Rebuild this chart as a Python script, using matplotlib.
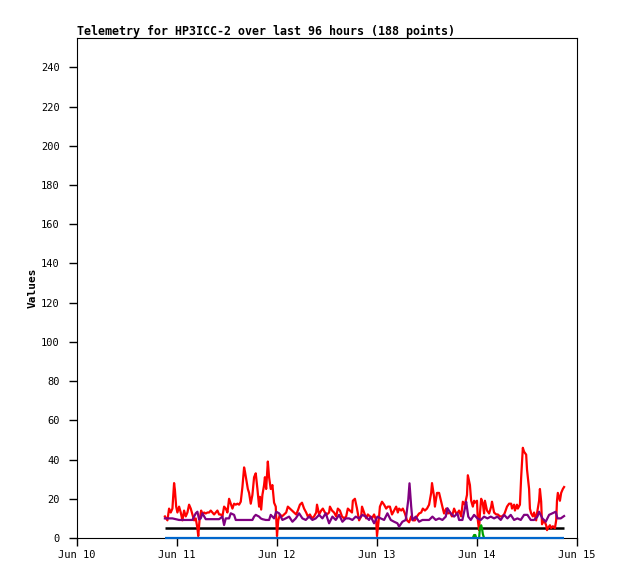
import numpy as np
import matplotlib
matplotlib.use("Agg")
import matplotlib.pyplot as plt

title = "Telemetry for HP3ICC-2 over last 96 hours (188 points)"
ylabel = "Values"
x_tick_hours = [0, 24, 48, 72, 96, 120]
x_tick_labels = ["Jun 10", "Jun 11", "Jun 12", "Jun 13", "Jun 14", "Jun 15"]
y_ticks = list(range(0, 241, 20))

# hours since Jun 10 00:00
red_hours = [21.1, 21.7, 22.1, 22.5, 22.9, 23.3, 23.5, 23.8, 24.1, 24.5, 24.9, 25.3, 25.7, 26.1,
             26.5, 26.9, 27.3, 27.7, 28.1, 28.5, 28.9, 29.1, 29.4, 29.8, 30.1, 30.5, 30.9, 31.3,
             31.7, 32.1, 32.5, 32.9, 33.3, 33.7, 34.1, 34.5, 34.9, 35.3, 35.7, 36.1, 36.5, 36.9,
             37.3, 37.7, 38.1, 38.5, 38.9, 39.3, 39.7, 40.1, 40.3, 40.6, 41.0, 41.3, 41.7, 42.1,
             42.5, 42.9, 43.3, 43.7, 43.9, 44.2, 44.5, 44.9, 45.1, 45.4, 45.8, 46.1, 46.5, 46.9,
             47.3, 47.7, 48.0, 48.3, 48.7, 49.2, 49.7, 50.2, 50.6, 51.1, 51.6, 52.1, 52.6, 53.0,
             53.5, 54.0, 54.5, 55.0, 55.4, 55.9, 56.4, 56.9, 57.4, 57.6, 58.1, 58.6, 59.0, 59.5,
             60.0, 60.5, 60.7, 61.2, 61.7, 62.2, 62.6, 63.1, 63.6, 64.1, 64.6, 65.0, 65.5, 66.0,
             66.2, 66.7, 67.2, 67.7, 68.2, 68.4, 68.9, 69.4, 69.8, 70.3, 70.8, 71.3, 71.8, 72.0,
             72.5, 72.7, 73.2, 73.7, 74.2, 74.6, 75.1, 75.6, 76.1, 76.6, 77.0, 77.3, 77.8, 78.2,
             78.7, 79.2, 79.7, 80.2, 80.6, 81.1, 81.6, 82.1, 82.6, 83.0, 83.5, 84.0, 84.5, 85.0,
             85.2, 85.7, 85.9, 86.4, 86.9, 87.4, 87.8, 88.1, 88.6, 89.0, 89.5, 90.0, 90.5, 91.0,
             91.4, 91.7, 92.2, 92.6, 93.1, 93.6, 93.8, 94.3, 94.6, 95.0, 95.3, 95.5, 96.0, 96.2,
             96.5, 96.7, 97.0, 97.4, 97.7, 97.9, 98.4, 98.9, 99.4, 99.6, 100.1, 100.6, 101.0, 101.5,
             102.0, 102.5, 102.7, 103.2, 103.7, 104.2, 104.4, 104.9, 105.1, 105.6, 105.8, 106.3,
             106.6, 107.0, 107.3, 107.8, 108.0, 108.5, 108.7, 109.0, 109.4, 109.7, 110.2, 110.4,
             110.9, 111.1, 111.4, 111.6, 112.1, 112.6, 112.8, 113.0, 113.5, 113.8, 114.2, 114.7,
             115.0, 115.2, 115.4, 115.9, 116.2, 116.6, 116.9]
red_values = [11, 9, 15, 13, 15, 28, 24.5, 16, 13, 16, 13, 9, 14, 11,
              13, 17, 15, 12, 9, 10, 5, 1, 9, 14, 12, 13, 12.5, 13,
              13, 14, 13, 12, 13, 14, 12, 12, 11, 16, 15, 13, 20, 17.5,
              15, 17.5, 17, 17.5, 17, 18.5, 26, 36, 34, 30, 25, 23, 17.5, 22,
              31, 33, 25, 16, 21, 14.5, 22, 27, 31, 25, 39, 31, 25, 27,
              18, 16, 1, 9, 12, 11, 12, 13, 16, 15, 14, 13, 12, 14,
              17, 18, 15, 13, 11, 12, 10, 11, 13, 17, 12, 14, 15, 13,
              12, 13, 16, 14, 13, 11, 15, 14, 11, 10, 11, 15, 14, 13,
              19, 20, 15, 9, 11, 16, 13, 10, 12, 11, 10, 12, 9, 1,
              11, 16, 18.5, 17, 15, 16, 16, 12, 14, 16, 13, 15, 14, 15,
              12.5, 9, 8, 11, 9, 9, 11, 12.5, 13, 15, 14, 15, 17, 23,
              28, 21, 16, 23, 23, 18.5, 15, 12.5, 15, 12.5, 13, 11, 15, 12.5,
              13, 14, 11, 18.5, 17, 22, 32, 27, 19, 16, 19, 18, 19, 9,
              4, 12.5, 20, 17.5, 12.5, 19, 14, 12.5, 16, 18.5, 13, 12, 12, 11,
              11, 12, 13, 16, 17.5, 17.5, 15, 17, 14, 17, 15, 17,
              31, 46, 44, 42.5, 35, 25, 15, 12.5, 11, 13, 9, 12.5,
              19, 25, 18.5, 7, 9, 6.5, 4, 5, 6.5, 5, 6, 5,
              9, 19, 23, 19, 23, 25, 26]

purple_hours = [21.1, 22.1, 22.9, 24.5, 26.1, 27.7, 28.5, 28.9, 29.3, 29.7, 30.1, 30.9, 32.5,
                34.1, 34.9, 35.3, 35.7, 36.5, 36.9, 37.7, 38.1, 38.9, 40.5, 42.1, 42.5, 42.9,
                43.7, 44.1, 44.5, 45.3, 46.1, 46.5, 47.3, 47.8, 48.5, 49.3, 50.1, 50.9, 51.7,
                52.5, 53.3, 54.1, 54.9, 55.7, 56.5, 57.3, 58.1, 58.9, 59.7, 60.5, 61.3, 62.1,
                62.9, 63.7, 64.5, 65.3, 66.1, 66.9, 67.7, 68.5, 69.3, 70.1, 70.5, 71.3, 72.1,
                72.9, 73.7, 74.5, 75.3, 76.1, 76.9, 77.3, 78.1, 78.9, 79.5, 79.8, 80.2, 80.5,
                81.3, 82.1, 82.9, 83.7, 84.5, 85.3, 86.1, 86.9, 87.7, 88.5, 88.9, 89.7, 90.5,
                91.3, 91.7, 92.5, 93.1, 93.4, 93.9, 94.5, 95.3, 96.1, 96.9, 97.7, 98.5, 99.3,
                100.1, 100.9, 101.7, 102.5, 103.3, 104.1, 104.9, 105.7, 106.5, 107.3, 108.1,
                108.9, 109.7, 110.5, 110.9, 111.7, 112.5, 113.3, 114.1, 114.9, 115.3, 116.1, 116.9]
purple_values = [10.0, 10.0, 10.0, 9.2, 9.2, 9.2, 12.6, 13.4, 9.5, 10.0, 12.6, 9.6, 9.6,
                 9.6, 10.9, 6.6, 10.0, 10.0, 12.6, 11.8, 9.2, 9.2, 9.2, 9.2, 10.9, 11.8,
                 10.9, 10.0, 9.6, 9.2, 9.2, 11.8, 10.0, 13.4, 12.6, 9.2, 10.0, 10.9, 8.3,
                 10.0, 12.6, 10.0, 9.2, 10.9, 9.2, 10.0, 11.8, 10.0, 12.6, 7.5, 10.9, 9.2,
                 11.8, 8.3, 10.0, 10.0, 9.2, 10.9, 10.0, 11.8, 10.9, 9.2, 10.9, 7.5, 10.9,
                 10.0, 9.2, 12.6, 9.2, 8.3, 7.5, 5.8, 8.3, 9.2, 19.4, 27.9, 16.2, 9.2,
                 10.9, 8.3, 9.2, 9.2, 9.2, 10.9, 9.2, 10.0, 9.2, 10.9, 15.2, 12.6, 10.9,
                 12.6, 9.2, 9.2, 15.2, 18.5, 10.9, 9.2, 11.8, 10.0, 9.2, 10.9, 10.0, 10.9,
                 10.0, 10.9, 9.2, 11.8, 10.0, 11.8, 9.2, 10.0, 9.2, 11.8, 11.8,
                 9.2, 9.2, 10.9, 13.4, 10.0, 8.3, 11.8, 12.6, 13.4, 10.0, 10.0, 11.2]

green_hours = [95.0, 95.3, 95.6, 95.8, 96.2, 96.5, 96.7, 97.0, 97.2, 97.4, 97.7]
green_values = [0, 1.5, 1.5, 0, np.nan, 0, 5, 6.5, 5, 2, 0]

black_hours = [21.1, 116.9]
black_values = [5, 5]
blue_hours = [21.1, 116.9]
blue_values = [0, 0]

plt.rcParams['font.family'] = ['DejaVu Sans Mono']

fig = plt.figure(figsize=(6.18, 5.79), dpi=100)
ax = fig.add_axes([77 / 618, 41 / 579, 500 / 618, 500 / 579])

lw = 1.6
ax.plot(blue_hours, blue_values, color='#0066cc', lw=lw, zorder=6, solid_capstyle='butt', clip_on=False)
ax.plot(black_hours, black_values, color='#000000', lw=1.8, zorder=2.6, solid_capstyle='butt')
ax.plot(red_hours, red_values, color='#ff0000', lw=lw, zorder=3)
ax.plot(purple_hours, purple_values, color='#800080', lw=lw, zorder=4)
ax.plot(green_hours, green_values, color='#00a000', lw=lw, zorder=5)

ax.set_xlim(0, 120)
ax.set_ylim(0, 255)
ax.set_xticks(x_tick_hours)
ax.set_xticklabels(x_tick_labels)
ax.set_yticks(y_ticks)
ax.tick_params(axis='x', direction='out', length=6, width=1, pad=3, labelsize=7.5)
ax.tick_params(axis='y', direction='out', length=5.5, width=1, pad=7, labelsize=7.5)
for s in ax.spines.values():
    s.set_linewidth(0.8)

ax.set_ylabel(ylabel, fontsize=8, fontweight='bold', labelpad=2)
ax.set_title(title, loc='left', fontsize=8.4, fontweight='bold', pad=2)

fig.savefig("out.png", dpi=100)
